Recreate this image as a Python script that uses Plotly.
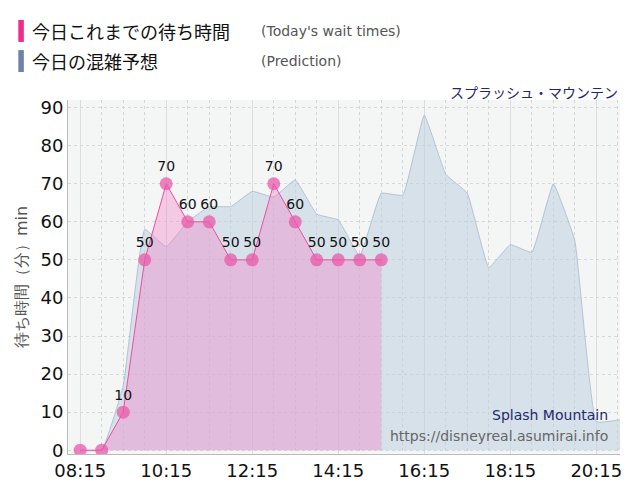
import plotly.graph_objects as go

day = "2024-01-01 "
actual_times = ["08:15","08:45","09:15","09:45","10:15","10:45","11:15","11:45","12:15","12:45","13:15","13:45","14:15","14:45","15:15"]
actual_vals = [0,0,10,50,70,60,60,50,50,70,60,50,50,50,50]
pred_times = ["08:15","08:45","09:15","09:45","10:15","10:45","11:15","11:45","12:15","12:45","13:15","13:45","14:15","14:45","15:15","15:45","16:15","16:45","17:15","17:45","18:15","18:45","19:15","19:45","20:15","20:48"]
pred_vals = [0,0,17,58,53.5,60,64,64,68,66.5,71,62,60.5,51,67.5,67,88,72.5,67.5,48,54,52,70,55,7.5,8]

fig = go.Figure()
fig.add_trace(go.Scatter(x=[day+t for t in pred_times], y=pred_vals, mode="lines",
    line=dict(color="rgba(160,180,200,0.7)", width=1, shape="spline", smoothing=0.3),
    fill="tozeroy", fillcolor="rgba(190,208,222,0.55)", hoverinfo="skip"))
fig.add_trace(go.Scatter(x=[day+t for t in actual_times], y=actual_vals, mode="lines+markers+text",
    line=dict(color="#ee4fa0", width=1),
    fill="tozeroy", fillcolor="rgba(245,130,200,0.38)",
    marker=dict(size=13, color="rgba(232,90,170,0.75)"),
    text=[str(v) if v else "" for v in actual_vals], textposition="top center",
    textfont=dict(size=14, color="#111", family="DejaVu Sans")))

fig.update_layout(
    width=640, height=500, showlegend=False,
    margin=dict(l=60, r=28, t=92, b=54),
    paper_bgcolor="white", plot_bgcolor="#f4f5f5",
    font=dict(family="DejaVu Sans"),
    xaxis=dict(range=[day+"07:58", day+"20:48"], type="date", tickformat="%H:%M",
               tick0=day+"08:15", dtick=7200000, tickfont=dict(size=18, color="#111"),
               showgrid=True, gridcolor="#dddddd", griddash="solid",
               minor=dict(dtick=1800000, tick0=day+"08:15", showgrid=True, gridcolor="#d5d5d5", griddash="dot"),
               showline=True, linecolor="#bbbbbb", ticks="", zeroline=False),
    yaxis=dict(range=[-1, 92], dtick=10, tickfont=dict(size=18, color="#111"),
               showgrid=True, gridcolor="#d8d8d8", griddash="dot", zeroline=False,
               showline=True, linecolor="#bbbbbb",
               title=dict(text="待ち時間（分）min", font=dict(size=16, color="#555"), standoff=8)),
)
fig.add_shape(type="rect", xref="paper", yref="paper", x0=-0.09, x1=-0.08, y0=1.164, y1=1.226,
              fillcolor="#ee2b8e", line_width=0)
fig.add_shape(type="rect", xref="paper", yref="paper", x0=-0.09, x1=-0.08, y0=1.079, y1=1.141,
              fillcolor="#6f82a6", line_width=0)
fig.add_annotation(xref="paper", yref="paper", x=-0.069, y=1.195, xanchor="left", yanchor="middle",
                   text="今日これまでの待ち時間", showarrow=False, font=dict(size=18, color="#111", family="Noto Sans CJK JP"))
fig.add_annotation(xref="paper", yref="paper", x=-0.069, y=1.110, xanchor="left", yanchor="middle",
                   text="今日の混雑予想", showarrow=False, font=dict(size=18, color="#111", family="Noto Sans CJK JP"))
fig.add_annotation(xref="paper", yref="paper", x=0.346, y=1.195, xanchor="left", yanchor="middle",
                   text="(Today's wait times)", showarrow=False, font=dict(size=14, color="#555"))
fig.add_annotation(xref="paper", yref="paper", x=0.346, y=1.110, xanchor="left", yanchor="middle",
                   text="(Prediction)", showarrow=False, font=dict(size=14, color="#555"))
fig.add_annotation(xref="paper", yref="paper", x=1.0, y=1.023, xanchor="right", yanchor="middle",
                   text="スプラッシュ・マウンテン", showarrow=False, font=dict(size=14, color="#1f2a6e", family="Noto Sans CJK JP"))
fig.add_annotation(xref="paper", yref="paper", x=0.982, y=0.110, xanchor="right", yanchor="middle",
                   text="Splash Mountain", showarrow=False, font=dict(size=14, color="#1f2a6e"))
fig.add_annotation(xref="paper", yref="paper", x=0.982, y=0.051, xanchor="right", yanchor="middle",
                   text="https://disneyreal.asumirai.info", showarrow=False, font=dict(size=14, color="#666"))
fig.write_html("out.html")
